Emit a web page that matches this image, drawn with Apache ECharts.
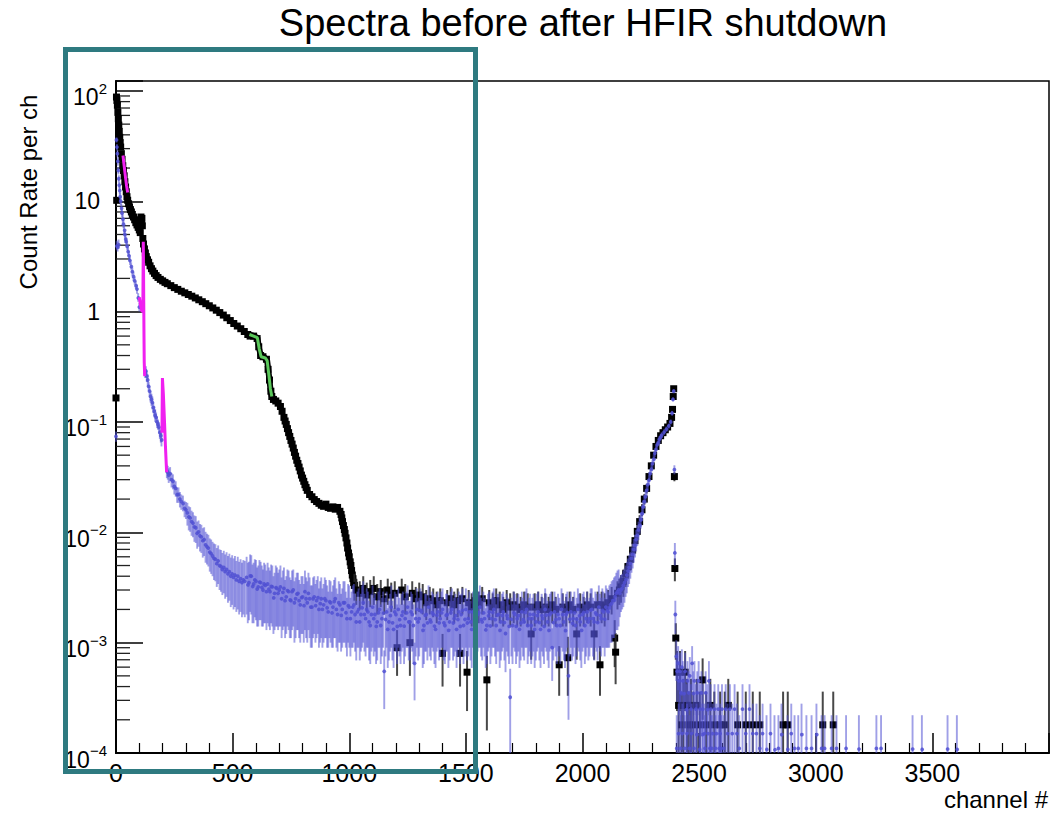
<!DOCTYPE html>
<html><head><meta charset="utf-8">
<script src="https://cdn.jsdelivr.net/npm/echarts@6/dist/echarts.min.js"></script>
<style>html,body{margin:0;padding:0;background:#fff}#c{width:1053px;height:814px}</style>
</head><body><div id="c"></div>
<script>
// ---------------- text ----------------
const titleText = 'Spectra before after HFIR shutdown';
const xAxisName = 'channel #';
const yAxisName = 'Count Rate per ch';

// ---------------- axes ----------------
const X_MIN = 0, X_MAX = 4000, X_STEP = 500;
const Y_MIN = 1e-4, Y_MAX = 123;
const yTickValues = [1e-4, 1e-3, 1e-2, 1e-1, 1, 10, 100];
const yTickBase   = ['10', '10', '10', '10', '1', '10', '10'];
const yTickExp    = ['\u22124', '\u22123', '\u22122', '\u22121', '', '', '2'];

// ---------------- data: before shutdown (black) [channel, rate, error] ----------------
const beforeSmooth = [
 [0,0.165],[2,88],[3,10.2],[4,82],[6,74],[8,64],[10,56],[12,49],[14,43],[16,38],[18,34],[20,31],[23,27],[26,24],[29,21],[32,19],[35,17],[38,15],[41,13.5],[44,12.2],[47,11],[50,10.2],[54,9.5],[58,8.9],[62,8.4],[66,8.0],[70,7.6],[75,7.2],[80,6.8],[85,6.4],[90,6.1],[95,5.8],[100,5.5],[104,5.2],[107,7.2],[109,6.6],[111,7.0],[113,6.0],[115,4.6],[118,4.1],[122,3.7],[126,3.4],[130,3.15],[135,2.95],[140,2.8],[146,2.6],[152,2.45],[158,2.33],[165,2.22],[172,2.12],[180,2.04],[190,1.96],[200,1.9],[210,1.84],[220,1.79],[235,1.72],[250,1.65],[265,1.59],[280,1.53],[295,1.48],[310,1.43],[325,1.38],[340,1.33],[355,1.28],[370,1.23],[385,1.18],[400,1.13],[415,1.08],[430,1.03],[445,0.98],[460,0.93],[475,0.88],[490,0.83],[505,0.78],[520,0.74],[535,0.7],[550,0.66],[565,0.62],[575,0.6],[590,0.6],[605,0.57],[612,0.48],[620,0.4],[630,0.39],[645,0.37],[652,0.3],[658,0.24],[664,0.19],[668,0.17],[675,0.16],[685,0.155],[695,0.148],[705,0.138],[712,0.125],[720,0.11],[725,0.102],[730,0.095],[735,0.087],[740,0.08],[745,0.074],[750,0.068],[755,0.063],[760,0.058],[765,0.053],[770,0.049],[775,0.045],[780,0.042],[785,0.039],[790,0.036],[795,0.033],[800,0.031],[805,0.029],[810,0.027],[815,0.0255],[820,0.024],[830,0.022],[840,0.021],[850,0.0198],[860,0.019],[870,0.0183],[880,0.0176],[890,0.0172],[900,0.018],[910,0.0168],[920,0.0165],[930,0.017],[940,0.0162],[950,0.0168],[960,0.0155],[965,0.0145],[968,0.0135],[971,0.0125],[975,0.0115],[979,0.0106],[982,0.0098],[986,0.0089],[990,0.008],[993,0.0072],[997,0.0065],[1000,0.006],[1004,0.0054],[1007,0.005],[1010,0.0045],[1013,0.0041],[1016,0.0038],[1019,0.0035]
];
const beforeFlat = [
 [1022,0.0033,0.0009],[1030,0.003,0.0008],[1045,0.0028,0.0008],[1060,0.0031,0.0009],[1075,0.0027,0.0008],[1090,0.0029,0.0008],[1105,0.0031,0.0009],[1120,0.0026,0.0008],[1135,0.0029,0.0008],[1150,0.0025,0.0007],[1165,0.003,0.0008],[1180,0.0027,0.0008],[1195,0.0028,0.0008],[1205,0.0009,0.0004],[1225,0.003,0.0008],[1240,0.0026,0.0008],[1260,0.001,0.0005],[1270,0.0028,0.0008],[1285,0.0025,0.0007],[1300,0.0027,0.0008],[1315,0.0026,0.0008],[1330,0.0023,0.0007],[1345,0.0025,0.0007],[1360,0.0024,0.0007],[1375,0.0022,0.0007],[1390,0.0024,0.0007],[1400,0.0008,0.0004],[1420,0.0023,0.0007],[1435,0.0025,0.0007],[1450,0.0022,0.0007],[1465,0.0024,0.0007],[1475,0.0008,0.0004],[1485,0.0025,0.0007],[1505,0.00054,0.0003],[1512,0.0023,0.0007],[1525,0.0021,0.0007],[1540,0.0024,0.0007],[1555,0.0022,0.0007],[1570,0.0025,0.0007],[1590,0.00046,0.0003],[1600,0.0023,0.0007],[1615,0.0021,0.0007],[1630,0.0024,0.0007],[1645,0.0022,0.0007],[1660,0.002,0.0006],[1675,0.0023,0.0007],[1690,0.0021,0.0007],[1705,0.0022,0.0007],[1720,0.0021,0.0007],[1735,0.002,0.0006],[1750,0.0022,0.0007],[1765,0.0021,0.0007],[1780,0.0012,0.0005],[1795,0.0021,0.0007],[1810,0.0022,0.0007],[1825,0.002,0.0006],[1840,0.0021,0.0007],[1855,0.002,0.0006],[1870,0.0022,0.0007],[1885,0.002,0.0006],[1900,0.00063,0.0003],[1915,0.0021,0.0007],[1930,0.002,0.0006],[1937,0.00073,0.0004],[1945,0.0022,0.0007],[1960,0.002,0.0006],[1975,0.0012,0.0005],[1990,0.0021,0.0007],[2005,0.002,0.0006],[2020,0.0022,0.0007],[2035,0.0021,0.0007],[2050,0.0012,0.0005],[2065,0.0022,0.0007],[2075,0.00063,0.0003],[2082,0.0022,0.0007],[2095,0.0021,0.0007],[2110,0.0023,0.0007],[2125,0.0025,0.0007],[2138,0.0011,0.0005],[2142,0.00082,0.0004],[2150,0.0028,0.0008],[2158,0.003,0.0008]
];
const beforeRise = [
 [2165,0.0032,0.0009],[2175,0.0036,0.001],[2185,0.0042,0.001],[2195,0.0049,0.0011],[2205,0.0057,0.0012],[2215,0.0069,0.0013],[2225,0.0084,0.0014],[2235,0.0102,0.0016],[2245,0.0125,0.0018],[2255,0.016,0.002],[2265,0.02,0.0022],[2275,0.025,0.0025],[2285,0.032,0.0028],[2295,0.04,0.003],[2305,0.05,0.0033],[2315,0.06,0.0036],[2325,0.068,0.0038],[2335,0.075,0.004],[2345,0.08,0.0042],[2355,0.085,0.0043],[2365,0.09,0.0045],[2375,0.097,0.0047],[2382,0.11,0.005],[2386,0.13,0.0055],[2389,0.17,0.0065],[2391,0.2,0.007],[2394,0.032,0.003],[2396,0.0047,0.0011]
];
const beforeTail = [
 [2400,0.0011,0.0004],[2405,0.00054,0.0003],[2412,0.00027,0.0002],[2418,0.00054,0.0003],[2425,0.00018,0.00018],[2432,0.00027,0.0002],[2440,0.00054,0.0003],[2448,0.00027,0.0002],[2456,0.00018,0.00018],[2465,0.00027,0.0002],[2475,0.00018,0.00018],[2490,0.00027,0.0002],[2503,0.00018,0.00018],[2515,0.00046,0.00026],[2530,0.00018,0.00018],[2548,0.00027,0.0002],[2565,0.00018,0.00018],[2590,0.00018,0.00018],[2610,0.00018,0.00018],[2625,0.00027,0.0002],[2665,0.00018,0.00018],[2700,0.00018,0.00018],[2730,0.00018,0.00018],[2760,0.00018,0.00018],[2860,0.00018,0.00018],[2880,0.00018,0.00018],[3030,0.00018,0.00018],[3075,0.00018,0.00018]
];

// ---------------- data: after shutdown (blue) [channel, rate, error] ----------------
const afterSteep = [
 [0,0.074,0.008],[2,36,2],[3,4.0,0.4],[4,31,2],[6,27,2],[7,3.9,0.4],[8,23,2],[10,19,1.5],[11,4.1,0.4],[12,16,1.2],[14,14,1],[16,12.5,1],[18,11,1],[20,10,0.8],[23,8.8,0.7],[26,7.8,0.6],[29,7,0.6],[32,6.2,0.5],[35,5.6,0.5],[38,5,0.4],[41,4.6,0.4],[44,4.3,0.4],[48,3.9,0.3],[52,3.5,0.3],[56,3.2,0.3],[60,2.9,0.25],[65,2.6,0.2],[70,2.3,0.2],[75,2.1,0.2],[80,1.9,0.15],[85,1.75,0.15],[90,1.6,0.15],[95,1.35,0.12],[100,1.1,0.1],
 [125,0.28,0.03],[128,0.29,0.03],[132,0.26,0.03],[136,0.24,0.03],[140,0.21,0.02],[144,0.19,0.02],[148,0.17,0.02],[152,0.16,0.02],[156,0.15,0.02],[160,0.135,0.015],[164,0.125,0.015],[168,0.115,0.015],[172,0.11,0.012],[176,0.1,0.012],[180,0.095,0.01],[184,0.09,0.01],[188,0.08,0.01],[192,0.075,0.01],[195,0.07,0.01]
];
const afterMid = [
 [218,0.036,0.005],[222,0.035,0.005],[226,0.033,0.005],[232,0.034,0.005],[238,0.03,0.0045],[244,0.029,0.0045],[250,0.026,0.004],[256,0.025,0.004],[262,0.022,0.0035],[268,0.022,0.0035],[274,0.02,0.0032],[280,0.019,0.003],[287,0.0185,0.003],[294,0.0165,0.0028],[300,0.016,0.0028],[306,0.015,0.0035],[312,0.0138,0.0034],[318,0.0135,0.0034],[324,0.0125,0.0032],[330,0.0121,0.0031],[336,0.0112,0.003],[342,0.011,0.003],[348,0.0098,0.0027],[354,0.0101,0.0027],[360,0.0093,0.0026],[366,0.0091,0.0026],[372,0.0084,0.0025],[378,0.0086,0.0025],[384,0.0077,0.0024],[390,0.0074,0.0023],[396,0.0072,0.0023],[402,0.0066,0.0022],[408,0.0064,0.0022],[414,0.0061,0.0021],[420,0.0058,0.0021],[426,0.0057,0.0021],[432,0.0052,0.002],[438,0.0055,0.0021],[444,0.005,0.002],[450,0.0049,0.002],[456,0.0046,0.0019],[462,0.0048,0.002],[468,0.0044,0.0019],[474,0.0046,0.002],[480,0.0042,0.0019],[486,0.0044,0.002],[492,0.004,0.0019],[498,0.0042,0.002],[504,0.0039,0.0019],[510,0.0041,0.002],[516,0.0037,0.0018],[522,0.004,0.002],[528,0.0036,0.0018],[534,0.0038,0.0019],[540,0.0035,0.0018],[546,0.0037,0.0019],[552,0.0036,0.0019]
];
const afterFlat = [
 [560,0.0039,0.0021],[565,0.0034,0.0019],[570,0.0035,0.0019],[575,0.0041,0.0022],[580,0.004,0.0022],[585,0.0033,0.0018],[590,0.0034,0.0019],[595,0.0037,0.002],[600,0.0036,0.002],[605,0.0031,0.0017],[610,0.0032,0.0018],[615,0.0036,0.002],[620,0.0035,0.0019],[625,0.0032,0.0018],[630,0.003,0.0016],[635,0.0034,0.0019],[640,0.0033,0.0018],[645,0.0029,0.0016],[650,0.0034,0.0019],[655,0.0031,0.0017],[660,0.0029,0.0016],[665,0.0033,0.0018],[670,0.0032,0.0018],[675,0.0026,0.0014],[680,0.0028,0.0015],[685,0.0032,0.0018],[690,0.0031,0.0017],[695,0.0028,0.0015],[700,0.003,0.0016],[705,0.0032,0.0018],[710,0.0025,0.0014],[715,0.0029,0.0016],[720,0.0031,0.0017],[725,0.0024,0.0013],[730,0.0026,0.0014],[735,0.003,0.0016],[740,0.0029,0.0016],[745,0.0025,0.0014],[750,0.0024,0.0013],[755,0.0029,0.0016],[760,0.003,0.0016],[765,0.0023,0.0013],[770,0.0025,0.0014],[775,0.0028,0.0015],[780,0.0028,0.0015],[785,0.0024,0.0013],[790,0.0022,0.0012],[795,0.0026,0.0014],[800,0.0026,0.0014],[805,0.0022,0.0012],[810,0.0029,0.0016],[815,0.0025,0.0014],[820,0.0023,0.0013],[825,0.0028,0.0015],[830,0.0025,0.0014],[835,0.0021,0.0012],[840,0.0021,0.0012],[845,0.0025,0.0014],[850,0.0026,0.0014],[855,0.0022,0.0012],[860,0.0024,0.0013],[865,0.0026,0.0014],[870,0.002,0.0011],[875,0.0023,0.0013],[880,0.0025,0.0014],[885,0.002,0.0011],[890,0.0022,0.0012],[895,0.0025,0.0014],[900,0.0024,0.0013],[905,0.0021,0.0012],[910,0.0019,0.001],[915,0.0024,0.0013],[920,0.0023,0.0013],[925,0.0019,0.001],[930,0.0021,0.0012],[935,0.0024,0.0013],[940,0.0025,0.0014],[945,0.002,0.0011],[950,0.0018,0.00097],[955,0.0023,0.0013],[960,0.0022,0.0012],[965,0.0018,0.00097],[970,0.002,0.0011],[975,0.0023,0.0013],[980,0.0023,0.0013],[985,0.0019,0.001],[990,0.00165,0.0009],[995,0.0022,0.0012],[1000,0.0021,0.0012],
 [1005,0.00165,0.0009],[1010,0.0019,0.001],[1015,0.0021,0.0012],[1020,0.0022,0.0012],[1025,0.0018,0.00097],[1030,0.00154,0.00085],[1035,0.0019,0.001],[1040,0.002,0.0011],[1045,0.00154,0.00085],[1050,0.0018,0.00097],[1055,0.0021,0.0012],[1060,0.0023,0.0013],[1065,0.0018,0.00097],[1070,0.00165,0.0009],[1075,0.002,0.0011],[1080,0.0019,0.001],[1085,0.00154,0.00085],[1090,0.00143,0.00079],[1095,0.0018,0.00097],[1100,0.0021,0.0012],[1105,0.00165,0.0009],[1110,0.0018,0.00097],[1115,0.00143,0.00079],[1120,0.00154,0.00085],[1125,0.0019,0.001],[1130,0.002,0.0011],[1135,0.00143,0.00079],[1140,0.00165,0.0009],[1145,0.0019,0.001],[1150,0.00055,0.0003],[1155,0.00165,0.0009],[1160,0.0019,0.001],[1165,0.00132,0.00073],[1170,0.00154,0.00085],[1175,0.0018,0.00097],[1180,0.0021,0.0012],[1185,0.00154,0.00085],[1190,0.00132,0.00073],[1195,0.0019,0.001],[1200,0.0018,0.00097],[1205,0.00143,0.00079],[1210,0.002,0.0011],[1215,0.00165,0.0009],[1220,0.00143,0.00079],[1225,0.0018,0.00097],[1230,0.0019,0.001],[1235,0.00143,0.00079],[1240,0.00165,0.0009],[1245,0.0019,0.001],[1250,0.0021,0.0012],[1255,0.00154,0.00085],[1260,0.00154,0.00085],[1265,0.0019,0.001],[1270,0.0018,0.00097],[1275,0.00143,0.00079],[1280,0.00065,0.00035],[1285,0.00165,0.0009],[1290,0.002,0.0011],[1295,0.00154,0.00085],[1300,0.00165,0.0009],[1305,0.002,0.0011],[1310,0.0019,0.001],[1315,0.00132,0.00073],[1320,0.00143,0.00079],[1325,0.0018,0.00097],[1330,0.0018,0.00097],[1335,0.00154,0.00085],[1340,0.0021,0.0012],[1345,0.00165,0.0009],[1350,0.00154,0.00085],[1355,0.0019,0.001],[1360,0.0018,0.00097],[1365,0.00143,0.00079],[1370,0.00132,0.00073],[1375,0.0018,0.00097],[1380,0.0019,0.001],[1385,0.00154,0.00085],[1390,0.00165,0.0009],[1395,0.0019,0.001],[1400,0.002,0.0011],[1405,0.00154,0.00085],[1410,0.00143,0.00079],[1415,0.0018,0.00097],[1420,0.0018,0.00097],[1425,0.00132,0.00073],[1430,0.00154,0.00085],[1435,0.0019,0.001],[1440,0.002,0.0011],[1445,0.00154,0.00085],[1450,0.00165,0.0009],[1455,0.0018,0.00097],[1460,0.00132,0.00073],[1465,0.00165,0.0009],[1470,0.0019,0.001],[1475,0.00143,0.00079],[1480,0.0018,0.00097],[1485,0.002,0.0011],[1490,0.00143,0.00079],[1495,0.00165,0.0009],[1500,0.002,0.0011],
 [1505,0.00154,0.00085],[1510,0.00165,0.0009],[1515,0.0019,0.001],[1520,0.00154,0.00085],[1525,0.00132,0.00073],[1530,0.0019,0.001],[1535,0.00165,0.0009],[1540,0.00132,0.00073],[1545,0.00154,0.00085],[1550,0.0018,0.00097],[1555,0.0019,0.001],[1560,0.0021,0.0012],[1565,0.00165,0.0009],[1570,0.00154,0.00085],[1575,0.0019,0.001],[1580,0.00165,0.0009],[1585,0.00132,0.00073],[1590,0.00143,0.00079],[1595,0.0018,0.00097],[1600,0.0019,0.001],[1605,0.00143,0.00079],[1610,0.00165,0.0009],[1615,0.0019,0.001],[1620,0.002,0.0011],[1625,0.00165,0.0009],[1630,0.00143,0.00079],[1635,0.0018,0.00097],[1640,0.0018,0.00097],[1645,0.00132,0.00073],[1650,0.00154,0.00085],[1655,0.0018,0.00097],[1660,0.0019,0.001],[1665,0.00154,0.00085],[1670,0.00121,0.00067],[1675,0.0018,0.00097],[1680,0.00165,0.0009],[1685,0.00143,0.00079],[1690,0.00032,0.00026],[1695,0.00165,0.0009],[1700,0.00143,0.00079],[1705,0.0019,0.001],[1710,0.0018,0.00097],[1715,0.00143,0.00079],[1720,0.00165,0.0009],[1725,0.0018,0.00097],[1730,0.00132,0.00073],[1735,0.00154,0.00085],[1740,0.0019,0.001],[1745,0.00165,0.0009],[1750,0.00154,0.00085],[1755,0.0019,0.001],[1760,0.002,0.0011],[1765,0.00143,0.00079],[1770,0.00165,0.0009],[1775,0.0018,0.00097],[1780,0.00143,0.00079],[1785,0.00165,0.0009],[1790,0.0018,0.00097],[1795,0.00132,0.00073],[1800,0.00154,0.00085],[1805,0.0018,0.00097],[1810,0.0019,0.001],[1815,0.00154,0.00085],[1820,0.00132,0.00073],[1825,0.0018,0.00097],[1830,0.00165,0.0009],[1835,0.00143,0.00079],[1840,0.002,0.0011],[1845,0.0018,0.00097],[1850,0.00154,0.00085],[1855,0.00132,0.00073],[1860,0.0018,0.00097],[1865,0.0019,0.001],[1870,0.0009,0.00045],[1875,0.00154,0.00085],[1880,0.0019,0.001],[1885,0.00165,0.0009],[1890,0.00143,0.00079],[1895,0.0018,0.00097],[1900,0.00165,0.0009],[1905,0.00143,0.00079],[1910,0.002,0.0011],[1915,0.0018,0.00097],[1920,0.00154,0.00085],[1925,0.00132,0.00073],[1930,0.0018,0.00097],[1935,0.0019,0.001],[1940,0.0005,0.0003],[1945,0.00165,0.0009],[1950,0.0019,0.001],[1955,0.00154,0.00085],[1960,0.00165,0.0009],[1965,0.0019,0.001],[1970,0.00143,0.00079],[1975,0.00165,0.0009],[1980,0.002,0.0011],[1985,0.0018,0.00097],[1990,0.00154,0.00085],[1995,0.00132,0.00073],[2000,0.0018,0.00097],
 [2005,0.0019,0.001],[2010,0.00143,0.00079],[2015,0.00165,0.0009],[2020,0.0019,0.001],[2025,0.00154,0.00085],[2030,0.00165,0.0009],[2035,0.002,0.0011],[2040,0.002,0.0011],[2045,0.00165,0.0009],[2050,0.00154,0.00085],[2055,0.0019,0.001],[2060,0.0018,0.00097],[2065,0.00154,0.00085],[2070,0.0021,0.0012],[2075,0.0018,0.00097],[2080,0.00165,0.0009],[2085,0.002,0.0011],[2090,0.0019,0.001],[2095,0.00165,0.0009],[2100,0.0021,0.0012],[2105,0.002,0.0011],[2110,0.0019,0.001],[2115,0.0021,0.0012],[2120,0.0022,0.0012],[2125,0.0023,0.0013],[2130,0.0024,0.0013],[2135,0.0025,0.0014],[2140,0.0026,0.0014],[2145,0.0028,0.0015],[2150,0.0029,0.0016],[2155,0.003,0.0016]
];
const afterRise = [
 [2160,0.0028,0.0011],[2165,0.003,0.0011],[2170,0.0031,0.0011],[2175,0.0033,0.0012],[2180,0.0035,0.0012],[2185,0.0038,0.0012],[2190,0.0041,0.0013],[2195,0.0045,0.0013],[2200,0.0048,0.0014],[2205,0.0052,0.0014],[2210,0.0058,0.0015],[2215,0.0063,0.0016],[2220,0.007,0.0017],[2225,0.0077,0.0018],[2230,0.0086,0.0019],[2235,0.0095,0.002],[2240,0.0105,0.002],[2245,0.0118,0.0021],[2250,0.013,0.0022],[2255,0.015,0.0024],[2260,0.017,0.0025],[2265,0.019,0.0026],[2270,0.021,0.0028],[2275,0.024,0.0029],[2280,0.027,0.003],[2285,0.03,0.0031],[2290,0.034,0.0033],[2295,0.038,0.0035],[2300,0.042,0.0036],[2305,0.047,0.0038],[2310,0.052,0.004],[2315,0.057,0.0041],[2320,0.062,0.0043],[2325,0.066,0.0044],[2330,0.07,0.0045],[2335,0.073,0.0046],[2340,0.076,0.0047],[2350,0.081,0.0048],[2360,0.086,0.005],[2370,0.092,0.005],[2378,0.1,0.0053],[2384,0.12,0.006],[2388,0.16,0.007],[2391,0.19,0.008],[2394,0.037,0.0035],[2396,0.0065,0.0015],[2398,0.0018,0.0006]
];
const afterTail = [
 [2402,0.00075,0.0003],[2404,0.00011,0.00011],[2406,0.00055,0.00026],[2410,0.00065,0.00028],[2412,0.00015,0.00013],[2414,0.00045,0.00023],[2418,0.00055,0.00026],[2420,0.00011,0.00011],[2422,0.00035,0.0002],[2426,0.0006,0.00027],[2428,0.00015,0.00013],[2430,0.00045,0.00023],[2435,0.00035,0.0002],[2438,0.00011,0.00011],[2440,0.00055,0.00026],[2445,0.00025,0.00017],[2448,0.00015,0.00013],[2450,0.00045,0.00023],[2455,0.00035,0.0002],[2458,0.00011,0.00011],[2460,0.0005,0.00024],[2465,0.00025,0.00017],[2468,0.00015,0.00013],[2470,0.00065,0.00028],[2475,0.00035,0.0002],[2478,0.00011,0.00011],[2480,0.00045,0.00023],[2486,0.00025,0.00017],[2489,0.00015,0.00013],[2492,0.00035,0.0002],[2498,0.00045,0.00023],[2501,0.00011,0.00011],[2504,0.00025,0.00017],[2510,0.00035,0.0002],[2513,0.00015,0.00013],[2516,0.00025,0.00017],[2522,0.00015,0.00013],[2525,0.00011,0.00011],[2528,0.00035,0.0002],[2535,0.00025,0.00017],[2538,0.00015,0.00013],[2542,0.00045,0.00023],[2546,0.00011,0.00011],[2550,0.00025,0.00017],[2554,0.00011,0.00011],[2558,0.00015,0.00013],[2566,0.00025,0.00017],[2570,0.00011,0.00011],[2574,0.00015,0.00013],[2582,0.00025,0.00017],[2586,0.00011,0.00011],[2590,0.00015,0.00013],[2594,0.00011,0.00011],[2598,0.00025,0.00017],[2606,0.00011,0.00011],[2614,0.00025,0.00017],[2622,0.00015,0.00013],[2632,0.00025,0.00017],[2642,0.00015,0.00013],[2652,0.00025,0.00017],[2662,0.00015,0.00013],[2672,0.00011,0.00011],[2686,0.00025,0.00017],[2700,0.00015,0.00013],[2716,0.00025,0.00017],[2730,0.00015,0.00013],[2746,0.00015,0.00013],[2760,0.00011,0.00011],[2772,0.00015,0.00013],[2789,0.00011,0.00011],[2806,0.00015,0.00013],[2823,0.00011,0.00011],[2840,0.00011,0.00011],[2853,0.00015,0.00013],[2879,0.00011,0.00011],[2895,0.00015,0.00013],[2909,0.00011,0.00011],[2925,0.00011,0.00011],[2939,0.00015,0.00013],[2960,0.00011,0.00011],[2982,0.00011,0.00011],[3003,0.00015,0.00013],[3025,0.00011,0.00011],[3038,0.00011,0.00011],[3068,0.00011,0.00011],[3089,0.00011,0.00011],[3130,0.00011,0.00011],[3185,0.00011,0.00011],[3260,0.00011,0.00011],[3280,0.00011,0.00011],[3415,0.00011,0.00011],[3455,0.00011,0.00011],[3565,0.00011,0.00011],[3605,0.00011,0.00011]
];

// ---------------- highlighted ranges ----------------
const magentaA = [[30,26],[35,21],[40,17],[45,14],[50,12]];
const magentaB = [[100,1.35],[105,1.15],[110,1.02],[115,1.0],[117,4.3],[118,2.5],[119,1.2],[120,0.6],[121,0.35],[123,0.26]];
const magentaC = [[197,0.08],[199,0.25],[203,0.18],[208,0.1],[212,0.06],[217,0.035]];
const greenRange = [[572,0.62],[590,0.6],[606,0.58],[614,0.46],[622,0.39],[640,0.38],[648,0.36],[656,0.26],[662,0.2],[668,0.17]];

// ---------------- rendering ----------------
const FONT = 'Liberation Sans, Arial, Helvetica, sans-serif';
const chart = echarts.init(document.getElementById('c'), null, {renderer: 'svg'});

function errorPoints(kind) {
  return function (params, api) {
    const ch = api.value(0), v = api.value(1);
    let e = api.value(2); if (!isFinite(e)) e = 0;
    const bottom = api.coord([ch, Y_MIN])[1];
    const top = api.coord([ch, Y_MAX])[1];
    const c = api.coord([ch, v]);
    const children = [];
    if (e > 0) {
      let yHi = api.coord([ch, v + e])[1];
      let yLo = (v - e) > Y_MIN ? api.coord([ch, v - e])[1] : bottom;
      yHi = Math.max(yHi, top); yLo = Math.min(yLo, bottom);
      if (yLo > yHi) children.push({type: 'line', shape: {x1: c[0], y1: yHi, x2: c[0], y2: yLo},
        style: {stroke: kind.bar, lineWidth: kind.barWidth}});
    }
    if (v >= Y_MIN) {
      if (kind.square) children.push({type: 'rect', shape: {x: c[0] - kind.size / 2, y: c[1] - kind.size / 2, width: kind.size, height: kind.size}, style: {fill: kind.fill}});
      else children.push({type: 'circle', shape: {cx: c[0], cy: c[1], r: kind.size / 2}, style: {fill: kind.fill}});
    }
    return {type: 'group', children};
  };
}

const yMinorTicks = [];
yTickValues.forEach(function (d) { for (let m = 2; m <= 9; m++) { if (m * d < Y_MAX) yMinorTicks.push([X_MIN, m * d]); } });

function yLabel(value) {
  for (let i = 0; i < yTickValues.length; i++) {
    if (Math.abs(Math.log10(value) - Math.log10(yTickValues[i])) < 1e-6) {
      return yTickExp[i] === '' ? '{p|' + yTickBase[i] + '}' : '{b|' + yTickBase[i] + '}{s|' + yTickExp[i] + '}';
    }
  }
  return '';
}

const option = {
  animation: false,
  backgroundColor: '#fff',
  title: {text: titleText, left: 583, top: 4, textAlign: 'center', padding: 0,
    textStyle: {fontFamily: FONT, fontSize: 38, fontWeight: 'normal', color: '#000'}},
  grid: {left: 116, right: 4, top: 81, bottom: 61, show: true, borderColor: '#000', borderWidth: 1.5, backgroundColor: 'transparent'},
  xAxis: {type: 'value', min: X_MIN, max: X_MAX, interval: X_STEP,
    axisLine: {lineStyle: {color: '#000', width: 2}},
    axisTick: {inside: true, length: 20, lineStyle: {color: '#000', width: 1.5}},
    minorTick: {show: true, splitNumber: 5, length: 10, lineStyle: {color: '#000', width: 1.2}},
    splitLine: {show: false},
    axisLabel: {fontFamily: FONT, fontSize: 25, color: '#000', margin: 7, showMaxLabel: false,
      formatter: function (v) { return String(v); }}},
  yAxis: {type: 'log', logBase: 10, min: Y_MIN, max: Y_MAX,
    axisLine: {lineStyle: {color: '#000', width: 2}},
    axisTick: {inside: true, length: 27, lineStyle: {color: '#000', width: 1.5}},
    splitLine: {show: false},
    axisLabel: {margin: 9, color: '#000', formatter: yLabel,
      rich: {
        p: {fontFamily: FONT, fontSize: 23, color: '#000', padding: [0, 7, 0, 0]},
        b: {fontFamily: FONT, fontSize: 23, color: '#000', lineHeight: 36, verticalAlign: 'bottom'},
        s: {fontFamily: FONT, fontSize: 15, color: '#000', verticalAlign: 'top', padding: [8, 0, 0, 0]}
      }}},
  graphic: [
    {type: 'text', x: 28, y: 192, rotation: Math.PI / 2, z: 10,
      style: {text: yAxisName, fontFamily: FONT, fontSize: 24, fill: '#000', textAlign: 'center', textVerticalAlign: 'middle'}},
    {type: 'text', x: 1048, y: 799, z: 10,
      style: {text: xAxisName, fontFamily: FONT, fontSize: 24, fill: '#000', textAlign: 'right', textVerticalAlign: 'middle'}},
    {type: 'rect', z: 100, shape: {x: 65.5, y: 49.5, width: 410, height: 722},
      style: {fill: 'none', stroke: '#2E7A80', lineWidth: 5}}
  ],
  series: [
    {type: 'custom', name: 'minor ticks', silent: true, z: 1, data: yMinorTicks, encode: {x: 0, y: 1},
      renderItem: function (params, api) {
        const p = api.coord([api.value(0), api.value(1)]);
        return {type: 'line', shape: {x1: p[0], y1: p[1], x2: p[0] + 14, y2: p[1]}, style: {stroke: '#222', lineWidth: 1.3}};
      }},
    {type: 'custom', name: 'before shutdown', silent: true, z: 2,
      dimensions: ['ch', 'rate', 'err'], encode: {x: 0, y: 1},
      data: beforeSmooth.concat(beforeFlat, beforeRise, beforeTail),
      renderItem: errorPoints({square: true, size: 7, fill: '#000', bar: 'rgba(40,40,40,0.85)', barWidth: 2})},
    {type: 'custom', name: 'after shutdown', silent: true, z: 3,
      dimensions: ['ch', 'rate', 'err'], encode: {x: 0, y: 1},
      data: afterSteep.concat(afterMid, afterFlat, afterRise, afterTail),
      renderItem: errorPoints({square: false, size: 3.8, fill: 'rgba(80,80,210,0.85)', bar: 'rgba(82,82,212,0.55)', barWidth: 1.9})},
    {type: 'line', name: 'fit A', data: magentaA, showSymbol: false, z: 4, lineStyle: {color: '#F020F0', width: 3}},
    {type: 'line', name: 'fit B', data: magentaB, showSymbol: false, z: 4, lineStyle: {color: '#F020F0', width: 3}},
    {type: 'line', name: 'fit C', data: magentaC, showSymbol: false, z: 4, lineStyle: {color: '#F020F0', width: 3}},
    {type: 'line', name: 'range outline', data: greenRange, showSymbol: false, z: 4, lineStyle: {color: '#000', width: 6}},
    {type: 'line', name: 'range', data: greenRange, showSymbol: false, z: 5, lineStyle: {color: '#5BC85B', width: 3}}
  ]
};
chart.setOption(option);
</script>
</body></html>
